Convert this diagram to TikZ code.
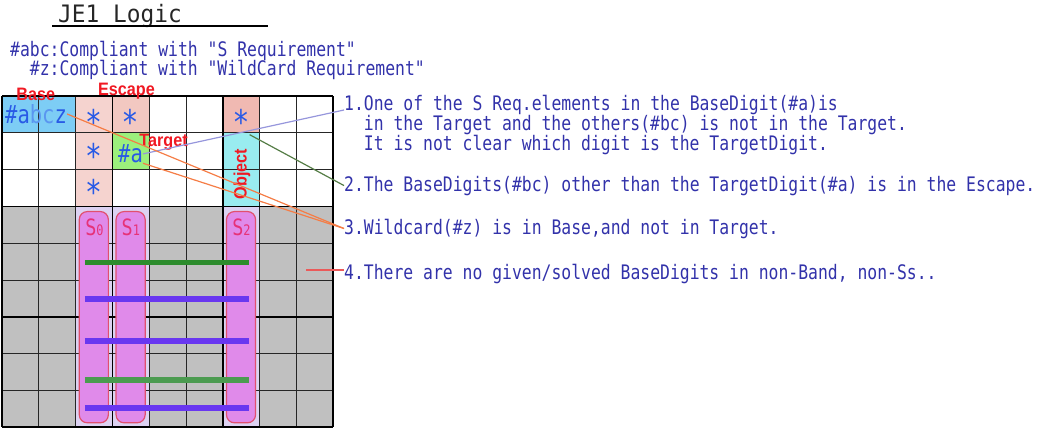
\documentclass[tikz,border=0pt]{standalone}
\usepackage{fontspec}
\usetikzlibrary{calc}
\newfontfamily\gothfont[FakeStretch=0.82]{DejaVu Sans Mono}
\newfontfamily\titlefont[FakeStretch=0.95]{DejaVu Sans Mono}
\newfontfamily\lblfont[FakeStretch=0.9]{Liberation Sans}
\definecolor{txtblue}{RGB}{50,50,170}
\definecolor{digblue}{RGB}{40,90,230}
\definecolor{diglight}{RGB}{90,150,240}
\definecolor{lblred}{RGB}{240,25,35}
\definecolor{sred}{RGB}{230,50,120}
\definecolor{basecol}{RGB}{125,205,245}
\definecolor{esccol}{RGB}{245,211,207}
\definecolor{esccolb}{RGB}{242,200,193}
\definecolor{objstar}{RGB}{240,185,178}
\definecolor{tgtcol}{RGB}{156,240,124}
\definecolor{objcol}{RGB}{153,236,240}
\definecolor{bandgray}{RGB}{192,192,192}
\definecolor{lav}{RGB}{220,210,242}
\definecolor{pillfill}{RGB}{224,138,234}
\definecolor{pilldraw}{RGB}{225,80,110}
\definecolor{bargreen}{RGB}{45,140,45}
\definecolor{bargreenb}{RGB}{75,155,80}
\definecolor{barblue}{RGB}{105,55,240}
\definecolor{leadpurple}{RGB}{150,150,220}
\definecolor{leadgreen}{RGB}{85,125,70}
\definecolor{leadorange}{RGB}{245,125,70}
\definecolor{leadred}{RGB}{235,90,90}

\begin{document}
\begin{tikzpicture}[
  x=1pt, y=-1pt,
  note/.style={font=\gothfont\fontsize{20}{20}\selectfont, text=txtblue,
               inner sep=0, anchor=base west},
  ast/.style={font=\gothfont\fontsize{34}{34}\selectfont, text=digblue,
              inner sep=0, anchor=north},
  digit/.style={font=\gothfont\fontsize{25}{25}\selectfont, text=digblue, inner sep=0},
  lbl/.style={font=\lblfont\bfseries\fontsize{18}{18}\selectfont, text=lblred,
              inner sep=0, anchor=base},
  slbl/.style={font=\gothfont\fontsize{22.5}{22.5}\selectfont, text=sred,
               inner sep=0, anchor=base},
  gridline/.style={draw=black!85, line width=0.8pt},
  boxline/.style={draw=black, line width=1.8pt},
  pill/.style={fill=pillfill, draw=pilldraw, line width=1.2pt, rounded corners=8pt},
  bar/.style={line width=5.7pt},
  lead/.style={line width=1.2pt}
]
  \useasboundingbox (0,0) rectangle (1037,429);

  % title and notes
  \node[font=\titlefont\fontsize{24}{24}\selectfont, text=black!85,
        inner sep=0, anchor=base west] (title) at (58,22) {JE1 Logic};
  \draw[line width=1.3pt] ($(title.base west)+(-6,4)$) -- ++(216,0);
  \node[note] (n1) at (10,56) {\#abc:Compliant with "S Requirement"};
  \node[note] (n2) at ($(n1.base west)+(19.7,19)$) {\#z:Compliant with "WildCard Requirement"};

  % board
  \begin{scope}[shift={(2,96)}, x=36.8pt, y=-36.8pt]
    \fill[bandgray] (0,3) rectangle (9,9);
    \foreach \c in {2,3,6}
      \fill[lav] (\c,3) rectangle (\c+1,9);
    \fill[basecol] (0,0) rectangle (2,1);
    \fill[esccol] (2,0) rectangle (3,3);
    \fill[esccolb] (3,0) rectangle (4,1);
    \fill[tgtcol] (3,1) rectangle (4,2);
    \fill[objstar] (6,0) rectangle (7,1);
    \fill[objcol] (6,1) rectangle (7,3);
    \foreach \k in {0,...,9} {
      \draw[gridline] (\k,0) -- (\k,9);
      \draw[gridline] (0,\k) -- (9,\k);
    }
    \foreach \k in {0,3,6,9} {
      \draw[boxline] (\k,0) -- (\k,9);
      \draw[boxline] (0,\k) -- (9,\k);
    }
    \foreach \c in {2,3,6}
      \draw[pill] (\c+0.1,3.14) rectangle (\c+0.89,8.88);
    \draw[bar, bargreen] (2.255,4.524) -- (6.71,4.524);
    \draw[bar, barblue] (2.255,5.516) -- (6.71,5.516);
    \draw[bar, barblue] (2.255,6.658) -- (6.71,6.658);
    \draw[bar, bargreenb] (2.255,7.709) -- (6.71,7.709);
    \draw[bar, barblue] (2.255,8.470) -- (6.71,8.470);
  \end{scope}

  % cell contents
  \node[digit, anchor=base west] (abcz) at (5,123.3)
    {\#a\textcolor{diglight}{bc}z};
  \node[digit, anchor=base] (tgta) at (130.5,162.7) {\#a};
  \node[ast] (ast20) at (93.5,109) {*};
  \node[ast] (ast30) at (130,109) {*};
  \node[ast] (ast21) at (93.5,143.5) {*};
  \node[ast] (ast22) at (93.5,179.5) {*};
  \node[ast] (ast6) at (241,109) {*};

  \node[slbl] (s0) at (94.5,235.7) {S{\fontsize{14.5}{14.5}\selectfont 0}};
  \node[slbl] (s1) at (130.8,235.7) {S{\fontsize{14.5}{14.5}\selectfont 1}};
  \node[slbl] (s2) at (241.5,235.7) {S{\fontsize{14.5}{14.5}\selectfont 2}};

  \node[lbl] (base) at (35.8,100.7) {Base};
  \node[lbl] (escape) at (126.5,95) {Escape};
  \node[lbl] (target) at (163.5,146.7) {Target};
  \node[lbl, rotate=90] (object) at (246.7,174.2) {Object};

  % remarks
  \node[note] (t1) at (344,110) {1.One of the S Req.elements in the BaseDigit(\#a)is};
  \node[note] (t1b) at ($(t1.base west)+(19.7,20)$) {in the Target and the others(\#bc) is not in the Target.};
  \node[note] (t1c) at ($(t1b.base west)+(0,20)$) {It is not clear which digit is the TargetDigit.};
  \node[note] (t2) at (344,191) {2.The BaseDigits(\#bc) other than the TargetDigit(\#a) is in the Escape.};
  \node[note] (t3) at (344,234) {3.Wildcard(\#z) is in Base,and not in Target.};
  \node[note] (t4) at (344,279) {4.There are no given/solved BaseDigits in non-Band, non-Ss..};
  \coordinate (c4) at (306,270);

  % leaders
  \draw[lead, leadpurple] (tgta.east) -- (t1.base west);
  \draw[lead, leadgreen] (ast6.south east) -- (t2.west);
  \draw[lead, leadorange] (abcz.east) -- (t3.west);
  \draw[lead, leadorange] (tgta.south east) -- (t3.west);
  \draw[lead, leadred] (c4) -- (t4.west |- c4);
\end{tikzpicture}
\end{document}
